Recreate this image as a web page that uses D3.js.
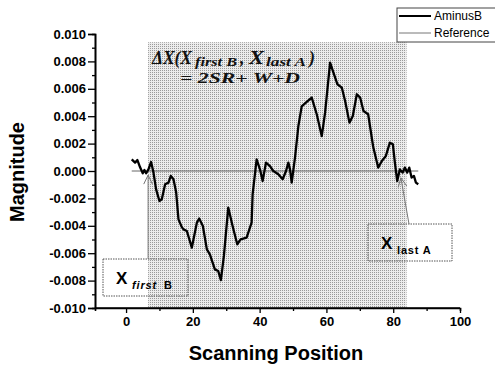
<!DOCTYPE html>
<html>
<head>
<meta charset="utf-8">
<script src="https://cdn.jsdelivr.net/npm/d3@7"></script>
<style>
  body { margin: 0; background: #fff; }
  svg { display: block; }
</style>
</head>
<body>
<div id="chart"></div>
<script>
// scanning position vs magnitude
const positions = [1.7, 2.7, 3.4, 4.2, 5.0, 5.5, 6.0, 6.7, 7.5, 8.2, 9.0, 10.0, 10.7, 11.7, 12.7,
  13.4, 14.2, 15.0, 15.7, 16.7, 17.2, 18.2, 19.7, 21.2, 21.9, 23.0, 24.2, 25.1, 26.6, 27.6,
  28.4, 29.3, 30.6, 31.9, 33.3, 34.3, 36.1, 37.6, 37.9, 39.1, 40.1, 40.9, 41.9, 43.1, 44.1,
  45.6, 46.9, 47.9, 48.6, 49.1, 49.6, 50.6, 51.6, 52.6, 54.1, 55.6, 57.1, 58.6, 59.6, 61.1,
  62.1, 63.3, 64.6, 65.6, 66.9, 67.9, 69.1, 70.1, 71.1, 72.5, 74.0, 75.5, 76.6, 77.8, 79.0,
  79.9, 80.5, 81.2, 82.0, 82.8, 83.5, 84.2, 84.8, 85.5, 86.2, 86.8, 87.5];
const aminusB = [0.00085, 0.00061, 0.0008, 0.00027, -0.00017, 0.00007, -0.00017, 0.00012, 0.00066,
  -0.0001, -0.00134, -0.00219, -0.00207, -0.00097, -0.00085, -0.00036, -0.0006, -0.00155,
  -0.00353, -0.0041, -0.00426, -0.00438, -0.00559, -0.00377, -0.00347, -0.00401, -0.00572,
  -0.00608, -0.00718, -0.0073, -0.00796, -0.0062, -0.00267, -0.00401, -0.00535, -0.00499,
  -0.00486, -0.00377, -0.0017, 0.00085, 0.00012, -0.00073, 0.00061, 0.00036, 0.0,
  -0.00024, -0.0006, 0.0, 0.00061, 0.00012, -0.00085, 0.001, 0.00328, 0.00472, 0.00504,
  0.00536, 0.00414, 0.00255, 0.00426, 0.00791, 0.00718, 0.00633, 0.00609, 0.00511, 0.00353,
  0.00401, 0.0056, 0.00536, 0.00438, 0.00414, 0.00177, 0.00025, 0.00073, 0.0011, 0.00207,
  0.00195, 0.00061, -0.00073, 0.00012, -0.00012, 0.00025, -0.00012, 0.00025, -0.00048,
  -0.00036, -0.00085, -0.00097];
const referenceX = [1.7, 87.5];
const referenceY = [0, 0];

const xTicks = [0, 20, 40, 60, 80, 100];
const yTicks = [-0.010, -0.008, -0.006, -0.004, -0.002, 0.000, 0.002, 0.004, 0.006, 0.008, 0.010];
const shadeRange = [6.6, 84];   // X first B .. X last A
const shadeTop = 0.0094;

const width = 495;
const height = 366;
const margin = { top: 34, right: 35, bottom: 58, left: 95 };

const svg = d3.select('#chart')
  .append('svg')
  .attr('width', width)
  .attr('height', height);

const x = d3.scaleLinear().domain([-9.3, 100]).range([margin.left, width - margin.right]);
const y = d3.scaleLinear().domain([-0.010, 0.010]).range([height - margin.bottom, margin.top]);

// stipple pattern for the shaded band
const defs = svg.append('defs');
const pat = defs.append('pattern')
  .attr('id', 'stipple')
  .attr('width', 2)
  .attr('height', 2)
  .attr('patternUnits', 'userSpaceOnUse');
pat.append('rect').attr('width', 2).attr('height', 2).attr('fill', '#ececec');
pat.append('rect').attr('width', 1).attr('height', 1).attr('fill', '#9a9a9a');

svg.append('rect')
  .attr('x', x(shadeRange[0]))
  .attr('y', y(shadeTop))
  .attr('width', x(shadeRange[1]) - x(shadeRange[0]))
  .attr('height', y(-0.010) - y(shadeTop))
  .attr('fill', 'url(#stipple)');

// reference line
const refLine = d3.line().x((d, i) => x(referenceX[i])).y((d) => y(d));
svg.append('path')
  .datum(referenceY)
  .attr('d', refLine)
  .attr('fill', 'none')
  .attr('stroke', '#666')
  .attr('stroke-width', 1);

// AminusB curve
const line = d3.line().x((d, i) => x(positions[i])).y((d) => y(d));
svg.append('path')
  .datum(aminusB)
  .attr('d', line)
  .attr('fill', 'none')
  .attr('stroke', '#000')
  .attr('stroke-width', 2.3)
  .attr('stroke-linejoin', 'round');

// axes
const fmt = d3.format('.3f');
const xAxis = svg.append('g')
  .attr('transform', `translate(0,${y(-0.010)})`)
  .call(d3.axisBottom(x).tickValues(xTicks).tickSize(5).tickPadding(4));
xAxis.append('g')
  .call(d3.axisBottom(x).tickValues(d3.range(10, 100, 20)).tickSize(3).tickFormat(''));

const yAxis = svg.append('g')
  .attr('transform', `translate(${x(-9.3)},0)`)
  .call(d3.axisLeft(y).tickValues(yTicks).tickSize(7).tickPadding(2)
    .tickFormat((d) => fmt(d).replace('\u2212', '-')));
yAxis.append('g')
  .call(d3.axisLeft(y).tickValues(d3.range(-0.009, 0.0095, 0.002)).tickSize(3).tickFormat(''));

svg.selectAll('.domain').attr('stroke', '#000').attr('stroke-width', 1.6);
svg.selectAll('.tick line').attr('stroke', '#000').attr('stroke-width', 1.3);
svg.selectAll('.tick text')
  .attr('font-family', 'Arial, "Liberation Sans", sans-serif')
  .attr('font-weight', 'bold')
  .attr('font-size', 13)
  .attr('fill', '#000');
xAxis.select('.domain').attr('d', `M${x(-9.3)},0H${x(100)}`);

// axis titles
svg.append('text')
  .attr('x', 276)
  .attr('y', 360)
  .attr('text-anchor', 'middle')
  .attr('font-family', 'Arial, "Liberation Sans", sans-serif')
  .attr('font-weight', 'bold')
  .attr('font-size', 20)
  .text('Scanning Position');

svg.append('text')
  .attr('transform', 'translate(24,172) rotate(-90)')
  .attr('text-anchor', 'middle')
  .attr('font-family', 'Arial, "Liberation Sans", sans-serif')
  .attr('font-weight', 'bold')
  .attr('font-size', 20)
  .text('Magnitude');

// formula annotation
const serif = '"Liberation Serif", "Times New Roman", serif';
const formula = [
  { t: '\u0394X(X', x: 152, y: 64, s: 18, w: 40 },
  { t: 'first B', x: 195, y: 66, s: 12, w: 42 },
  { t: ',', x: 240, y: 64, s: 18, w: 0 },
  { t: 'X', x: 249, y: 64, s: 18, w: 15 },
  { t: 'last A', x: 266, y: 66, s: 12, w: 40 },
  { t: ')', x: 309, y: 64, s: 18, w: 0 },
  { t: '= 2SR+ W+D', x: 180, y: 83, s: 15, w: 120 },
];
formula.forEach((f) => {
  const t = svg.append('text')
    .attr('x', f.x)
    .attr('y', f.y)
    .attr('font-family', serif)
    .attr('font-weight', 'bold')
    .attr('font-style', 'italic')
    .attr('font-size', f.s)
    .attr('fill', '#111')
    .text(f.t);
  if (f.w) t.attr('textLength', f.w).attr('lengthAdjust', 'spacingAndGlyphs');
});

// label boxes + arrows
const sans = 'Arial, "Liberation Sans", sans-serif';
function labelBox(bx, by, bw, bh, sub, italic) {
  svg.append('rect')
    .attr('x', bx).attr('y', by).attr('width', bw).attr('height', bh)
    .attr('fill', 'none')
    .attr('stroke', '#555')
    .attr('stroke-width', 1)
    .attr('stroke-dasharray', '1.5,1');
  const t = svg.append('text')
    .attr('x', bx + 13)
    .attr('y', by + 25)
    .attr('font-family', sans)
    .attr('font-weight', 'bold');
  t.append('tspan').attr('font-size', 17).text('X ');
  t.append('tspan')
    .attr('font-size', 11)
    .attr('dy', 5)
    .attr('letter-spacing', 0.8)
    .attr('font-style', italic ? 'italic' : 'normal')
    .text(sub);
}
labelBox(103, 259, 85, 37, 'first', true);
labelBox(368, 224, 84, 37, 'last A', false);
// the B in "first B" is upright
svg.append('text')
  .attr('x', 164).attr('y', 289)
  .attr('font-family', sans).attr('font-weight', 'bold').attr('font-size', 11)
  .text('B');

function arrow(x1, y1, x2, y2) {
  const g = svg.append('g').attr('stroke', '#777').attr('stroke-width', 1).attr('fill', 'none');
  g.append('line').attr('x1', x1).attr('y1', y1).attr('x2', x2).attr('y2', y2);
  const a = Math.atan2(y2 - y1, x2 - x1);
  [0.45, -0.45].forEach((o) => {
    g.append('line')
      .attr('x1', x2).attr('y1', y2)
      .attr('x2', x2 - 10 * Math.cos(a + o))
      .attr('y2', y2 - 10 * Math.sin(a + o));
  });
}
arrow(x(shadeRange[0]), 259, x(shadeRange[0]), y(-0.0003));
arrow(409, 224, x(82.3), y(-0.0005));

// legend
const legend = svg.append('g');
legend.append('rect')
  .attr('x', 397).attr('y', 8).attr('width', 110).attr('height', 34)
  .attr('fill', '#fff').attr('stroke', '#444').attr('stroke-width', 1);
const legendItems = [
  { name: 'AminusB', color: '#000', w: 2 },
  { name: 'Reference', color: '#777', w: 1 },
];
legendItems.forEach((d, i) => {
  const ly = 16 + i * 17;
  legend.append('line')
    .attr('x1', 399).attr('x2', 431).attr('y1', ly).attr('y2', ly)
    .attr('stroke', d.color).attr('stroke-width', d.w);
  legend.append('text')
    .attr('x', 434).attr('y', ly + 4)
    .attr('font-family', sans).attr('font-size', 12)
    .text(d.name);
});
</script>
</body>
</html>
